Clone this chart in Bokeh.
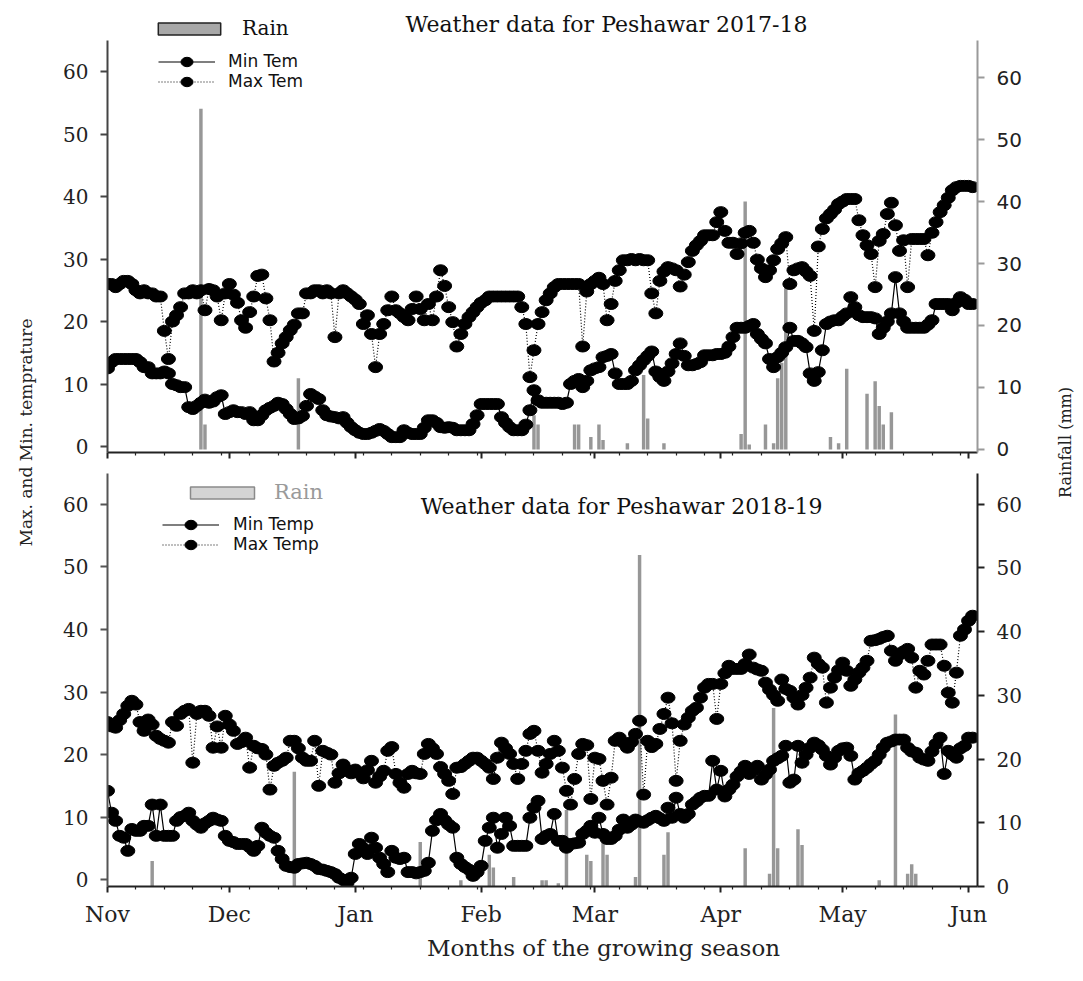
import numpy as np
from bokeh.plotting import figure
from bokeh.models import (Range1d, LinearAxis, FixedTicker, Legend, LegendItem,
                          Label, ColumnDataSource)
from bokeh.layouts import row, column
from bokeh.embed import file_html
from bokeh.resources import INLINE

# ---------------- data ----------------
month_labels = ["Nov", "Dec", "Jan", "Feb", "Mar", "Apr", "May", "Jun"]
month_start_day = [0, 30, 61, 92, 120, 151, 181, 212]
temp_ticks = [0, 10, 20, 30, 40, 50, 60]
rain_ticks = [0, 10, 20, 30, 40, 50, 60]

# 2017-18, daily from 1 Nov
tmax_1718 = [
    26, 26, 25.5, 26, 26.5, 26.5, 26, 25, 24.5, 25,
    24.5, 24.5, 24, 24, 18.5, 14, 20, 21, 22.3, 24.5,
    24.5, 25, 24.5, 25, 21.8, 25.2, 25, 24, 20.2, 24.5,
    26, 24.3, 23, 20.2, 19, 21.5, 24, 27.3, 27.5, 23.7,
    20.2, 13.6, 15, 16.5, 17.5, 18.6, 19.5, 21.3, 21.3, 24.5,
    24.5, 25, 25, 24.5, 25, 24.5, 17.5, 24.5, 25, 24.5,
    24, 23.5, 22.8, 19.6, 21, 18, 12.7, 18, 19.6, 21.8,
    24, 21.8, 21.3, 20.7, 20.2, 22, 24, 22, 20.2, 22.8,
    20.2, 24, 28.2, 25.7, 22.3, 19.9, 16, 18, 19.6, 20.7,
    21.5, 22.3, 23, 23.4, 24, 24, 24, 24, 24, 24,
    24, 24, 22.3, 19.6, 11.1, 15.4, 19.6, 21.5, 23.4, 24.5,
    25.5, 26, 26, 26, 26, 26, 26, 16, 24.8, 26,
    26.5, 27, 26, 20.2, 22.8, 26.5, 28.2, 29.8, 29.8, 30,
    29.8, 30, 29.8, 29.8, 24.5, 21.3, 26.5, 28, 28.7, 28.5,
    28.2, 25.6, 27.5, 29.5, 31.3, 32.2, 32.9, 33.8, 33.8, 33.8,
    35.9, 37.5, 34.5, 32.6, 32.6, 30.8, 32.5, 34.2, 34.5, 32.6,
    29.9, 28.5, 27.1, 28.2, 29.8, 31.6, 32.5, 33.5, 26, 28.2,
    28.5, 28.7, 28, 27.3, 18.5, 32, 34.8, 36.5, 37.2, 37.9,
    38.8, 39.2, 39.6, 39.6, 39.6, 36.2, 33.8, 32.2, 30.8, 25.5,
    32.9, 34, 37.2, 39, 35.4, 31.3, 33, 25.5, 33.2, 33.2,
    33.2, 33.2, 30.6, 34.2, 35.9, 37.5, 38.6, 39.8, 41, 41.5,
    41.7, 41.7, 41.7, 41.5,
]
tmin_1718 = [
    12.5, 13.5, 14, 14, 14, 14, 14, 14, 13.5, 12.7,
    12.7, 11.7, 11.7, 11.7, 12, 11.7, 10, 9.8, 9.5, 9.5,
    6.3, 6, 6.5, 7, 7.5, 7, 7.2, 7.9, 8.2, 5.2,
    5.5, 5.8, 5.5, 5.5, 5.2, 5.5, 4.2, 4.2, 5, 5.8,
    6.2, 6.5, 7, 6.8, 6, 5.2, 4.4, 4.5, 4.9, 6.5,
    8.4, 8, 7.6, 5.8, 5, 4.8, 4.7, 4.5, 4.7, 3.8,
    3.1, 2.6, 2.2, 2, 2, 2.2, 2.5, 2.8, 2.5, 2,
    1.5, 1.5, 1.5, 2.6, 2.2, 2, 2, 2, 3, 4.2,
    4.2, 3.8, 3.1, 3, 3.1, 3, 2.6, 2.6, 2.6, 2.6,
    3.6, 5, 6.8, 6.8, 6.8, 6.8, 6.8, 4.7, 3.8, 3.1,
    2.6, 2.6, 2.6, 3.5, 5.8, 9, 7.4, 7, 7, 7,
    7, 7, 6.8, 7, 10, 10.5, 10.8, 9.5, 10.5, 12.2,
    12.5, 12.7, 14.3, 14.5, 14.8, 11.7, 10, 10, 10, 10.5,
    12.2, 13, 13.8, 14.5, 15.2, 12, 11.1, 10.5, 12, 13.3,
    14.8, 16.5, 14.5, 13, 13, 13.2, 13.5, 14.6, 14.6, 14.6,
    14.8, 14.8, 15, 16, 17.5, 19, 19, 19, 19.3, 19.6,
    18, 17.2, 16.5, 14, 12.7, 14.3, 15, 15.9, 19, 16.9,
    16.9, 16.5, 15.9, 11.7, 10.5, 11.9, 15.4, 19.6, 20, 20.2,
    20.2, 20.8, 21.3, 23.9, 22.3, 21, 20.7, 20.7, 20.7, 20.5,
    18, 19, 20, 21.3, 27.1, 21.3, 20, 19, 19, 19,
    19, 19, 19.5, 20.2, 22.8, 22.8, 22.8, 22.8, 21.8, 23,
    23.9, 23.5, 22.8, 22.8,
]
rain_day_1718 = [23, 24, 47, 105, 106, 115, 116, 119, 121, 122, 128, 132, 133, 137,
                 156, 157, 158, 162, 164, 165, 166, 167, 178, 180, 182, 187, 189,
                 190, 191, 193]
rain_mm_1718 = [55, 4, 11.5, 5.5, 4, 4, 4, 2, 4, 1.5, 1, 12, 5, 1,
                2.5, 40, 0.8, 4, 1, 11.5, 14, 27, 2, 1, 13, 9, 11,
                7, 4, 6]

# 2018-19, daily from 1 Nov
tmax_1819 = [
    25.2, 24.5, 24.3, 25.5, 26.5, 27.8, 28.6, 28, 25.2, 23.8,
    25.6, 24.8, 23, 22.5, 22.2, 21.9, 25.2, 24.6, 26.5, 27,
    27.3, 18.7, 26.5, 27, 27, 26.2, 21.1, 24.5, 21.1, 26.2,
    24.8, 23.8, 21.7, 22, 22.7, 17.9, 21.4, 21, 20.9, 20,
    14.4, 18.2, 18.7, 19, 19.5, 22.2, 22.2, 21, 19.5, 19,
    19, 22.2, 15, 20.6, 20.3, 20, 15.5, 17, 18.4, 17.5,
    17, 17.6, 17, 16.2, 17.5, 19, 15.5, 16.5, 17.4, 20.6,
    21.2, 16.9, 15.5, 14.7, 16.9, 17.4, 17, 16.9, 20.1, 21.7,
    21, 20.1, 18, 16.9, 15.8, 13.7, 17.9, 18, 18.5, 19,
    19.5, 19.5, 19, 18.5, 17.9, 16.1, 19.5, 21.9, 21, 20.1,
    18.5, 16.1, 18.5, 20.6, 23.3, 23.8, 20.6, 17.1, 18.5, 20.1,
    22.2, 20.6, 17.9, 14.2, 12, 16.1, 20.1, 21.7, 21.5, 12.9,
    19.5, 19.3, 15.8, 12, 16.3, 22.2, 22.7, 21.9, 21.1, 22,
    23.3, 25.4, 13.6, 22.2, 21.2, 21.7, 24.1, 26.5, 29.1, 25,
    15.8, 22.2, 24.8, 25.9, 27, 27.5, 29.1, 30.7, 31.3, 31.3,
    25.7, 31.3, 33, 34.2, 33.7, 33.7, 33.7, 34.5, 36, 33.9,
    33.6, 33.4, 31.5, 30.4, 29.5, 28.6, 32, 30.5, 30.2, 29.1,
    28, 29.5, 30.7, 32.3, 35.5, 34.5, 33.9, 28.3, 30.7, 32.3,
    33.5, 34.7, 33.4, 31, 32, 33.1, 33.9, 35, 38.2, 38.3,
    38.5, 38.8, 39, 36.6, 35, 36, 36.5, 36.9, 35.5, 30.7,
    33.4, 32.8, 35, 37.6, 37.6, 37.6, 34.2, 29.9, 28.3, 33.1,
    39, 40, 41.4, 42.2,
]
tmin_1819 = [
    14.2, 10.7, 9.4, 7, 6.7, 4.6, 8.1, 7.8, 7.8, 8.6,
    8.6, 12, 7, 12, 7, 7, 7, 9.4, 10, 10.2,
    10.7, 9.4, 8.8, 8.3, 9, 9.4, 9.9, 9.6, 9.4, 7,
    6.2, 6, 5.7, 5.7, 5.7, 5.2, 4.6, 5.4, 8.3, 7.5,
    7, 6.7, 4.6, 3.3, 2.2, 2, 1.9, 2.5, 2.6, 2.7,
    2.5, 2.2, 1.7, 1.6, 1.4, 1.2, 0.9, 0.3, 0, -0.5,
    0.3, 4.1, 5.7, 5, 4.1, 6.7, 5.1, 3.5, 2.5, 1.2,
    4.6, 3.5, 3.3, 3.5, 1.2, 1.2, 1, 1.2, 1.4, 2.7,
    7.8, 9.5, 10.5, 9.5, 8.8, 8.3, 3.5, 2.5, 2, 1.6,
    0.6, 1.2, 2.2, 6.2, 8.3, 9.9, 5.1, 7.3, 9.9, 8.6,
    5.4, 5.4, 5.4, 5.4, 9.9, 11.5, 12.6, 6.5, 7, 7.3,
    10.5, 6.2, 6.2, 5.1, 5.7, 5.8, 5.9, 7.3, 7.8, 8.6,
    7.5, 9.9, 7.3, 6.5, 6.5, 7, 8, 9.6, 8.3, 8.8,
    9.6, 9.3, 9.1, 9.5, 9.9, 10.2, 9.8, 9.4, 11.5, 9.9,
    13.1, 10.5, 9.9, 10.5, 12, 12.5, 13.1, 13.4, 13.4, 19,
    14.4, 17.4, 13.3, 14.4, 15.2, 16.5, 17.3, 18.2, 16.9, 17.5,
    18.2, 16, 16.8, 17.6, 19, 19.4, 19.8, 21.4, 15.5, 16,
    21.4, 18.7, 20, 21.1, 21.9, 21.5, 20.8, 19.8, 18.4, 19.5,
    20.6, 21, 21.1, 19.8, 16, 17, 17.4, 17.9, 18.5, 19,
    20, 21.1, 21.9, 22.1, 22.4, 22.4, 22.4, 21.1, 20.5, 20.3,
    19.5, 19.2, 19, 20.5, 21.7, 22.7, 16.9, 20.6, 20, 19.5,
    21, 21.4, 22.7, 22.7,
]
rain_day_1819 = [11, 46, 77, 87, 94, 95, 100, 107, 108, 111, 113, 118, 119, 122, 123,
                 130, 131, 137, 138, 157, 163, 164, 165, 170, 171, 190, 194, 197,
                 198, 199]
rain_mm_1819 = [4, 18, 7, 1, 5, 3, 1.5, 1, 1, 0.5, 12, 5, 4, 7, 5,
                1.5, 52, 5, 8.5, 6, 2, 28, 6, 9, 6.5, 1, 27, 2,
                3.5, 2]

# ---------------- styling ----------------
SERIF = "DejaVu Serif"
SANS = "DejaVu Sans"
X_END = 214.2
FRAME_W = 870
B_LEFT, B_RIGHT = 69, 68
FIG_W = B_LEFT + FRAME_W + B_RIGHT
LEFT_W, RIGHT_W = 38, 30
TOP_H = 40
minor_x = [d for d in range(7, 214, 7)]


def style_axis(ax, color, width, font, size, standoff=12):
    ax.axis_line_color = color
    ax.axis_line_width = width
    ax.major_tick_line_color = color
    ax.major_tick_line_width = width
    ax.minor_tick_line_color = color
    ax.major_tick_out = 7
    ax.major_tick_in = 0
    ax.minor_tick_out = 0
    ax.minor_tick_in = 0
    ax.major_label_text_font = font
    ax.major_label_text_font_size = size
    ax.major_label_text_color = "#222222"
    ax.major_label_standoff = standoff


def one_item_legend(label, renderers, loc, gw, font, size, color, standoff):
    return Legend(items=[LegendItem(label=label, renderers=renderers)],
                  location=loc, glyph_width=gw, glyph_height=15,
                  label_height=15, label_standoff=standoff, padding=0,
                  margin=0, spacing=0, border_line_color=None,
                  background_fill_alpha=0, label_text_font=font,
                  label_text_font_size=size, label_text_color=color)


def panel(tmax, tmin, rday, rmm, yr, rr, fh, mt, mb, show_labels,
          left_col, right_col, right_font, names, temp_locs, temp_gw,
          temp_standoff):
    p = figure(frame_width=FRAME_W, frame_height=fh, title=None,
               x_range=Range1d(0, X_END), y_range=Range1d(*yr),
               toolbar_location=None, output_backend="svg",
               min_border_left=B_LEFT, min_border_right=B_RIGHT,
               min_border_top=mt, min_border_bottom=mb,
               outline_line_color=None, background_fill_color="white",
               border_fill_color="white")
    p.xgrid.visible = False
    p.ygrid.visible = False
    p.extra_y_ranges = {"rain": Range1d(*rr)}

    src = ColumnDataSource(dict(day=np.arange(len(tmax)), tmax=tmax, tmin=tmin))
    rsrc = ColumnDataSource(dict(day=rday, mm=rmm))

    p.vbar(x="day", top="mm", bottom=0, width=0.85, source=rsrc,
           y_range_name="rain", fill_color="#979797", line_color=None)

    lmin = p.line("day", "tmin", source=src, line_color="black", line_width=1.2)
    lmax = p.line("day", "tmax", source=src, line_color="black", line_width=1.2,
                  line_dash="1 2")
    emin = p.ellipse("day", "tmin", source=src, width=14, height=11,
                     width_units="screen", height_units="screen",
                     fill_color="black", line_color="black")
    emax = p.ellipse("day", "tmax", source=src, width=14, height=11,
                     width_units="screen", height_units="screen",
                     fill_color="black", line_color="black")

    p.yaxis.ticker = FixedTicker(ticks=temp_ticks)
    style_axis(p.yaxis[0], left_col, 2, SERIF, "20px")

    rax = LinearAxis(y_range_name="rain", ticker=FixedTicker(ticks=rain_ticks))
    style_axis(rax, right_col, 2, right_font, "20px")
    p.add_layout(rax, "right")

    xa = p.xaxis[0]
    xa.ticker = FixedTicker(ticks=month_start_day, minor_ticks=minor_x)
    style_axis(xa, "#222222", 2, SERIF, "22px", standoff=9)
    xa.major_tick_out = 6
    xa.minor_tick_out = 3
    xa.minor_tick_line_width = 1.2
    if show_labels:
        xa.major_label_overrides = {d: m for d, m in zip(month_start_day, month_labels)}
    else:
        xa.major_label_overrides = {d: "" for d in month_start_day}
        xa.major_label_standoff = 0

    p.add_layout(one_item_legend(names[0], [lmin, emin], temp_locs[0], temp_gw,
                                 SANS, "17px", "#111111", temp_standoff))
    p.add_layout(one_item_legend(names[1], [lmax, emax], temp_locs[1], temp_gw,
                                 SANS, "17px", "#111111", temp_standoff))
    return p, rsrc


p1, rsrc1 = panel(tmax_1718, tmin_1718, rain_day_1718, rain_mm_1718,
                  (-0.96, 64.96), (-0.5, 66.0), 412, 0, 12, False,
                  "#444444", "#9a9a9a", SANS, ("Min Tem", "Max Tem"),
                  ((51, 381), (51, 361)), 57, 13)

p2, rsrc2 = panel(tmax_1819, tmin_1819, rain_day_1819, rain_mm_1819,
                  (-1.1, 64.95), (0, 64.8), 413, 9, 40, True,
                  "#555555", "#222222", SERIF, ("Min Temp", "Max Temp"),
                  ((55, 352), (55, 332)), 57, 14)

# bottom panel: rain legend (proxy renderer hidden, same rain data)
sw2 = p2.vbar(x="day", top="mm", bottom=0, width=0.85, source=rsrc2,
              y_range_name="rain", fill_color="#d4d4d4", line_color="#8a8a8a",
              line_width=1.5, visible=False)
p2.add_layout(one_item_legend("Rain", [sw2], (75, 382), 80, SERIF, "21px",
                              "#9a9a9a", 12))
p2.add_layout(Label(x=126.6, y=59.7, text="Weather data for Peshawar 2018-19",
                    text_align="center", text_baseline="middle",
                    text_font=SERIF, text_font_size="22px", text_color="#111111"))

H_FIGS = TOP_H + (412 + 12) + (9 + 413 + 40)
FULL_W = LEFT_W + FIG_W + RIGHT_W


def strip(w, h, xr=None):
    s = figure(width=w, height=h, x_range=Range1d(0, xr or w), y_range=Range1d(0, h),
               toolbar_location=None, output_backend="svg", min_border=0,
               title=None, outline_line_color=None, x_axis_type=None,
               y_axis_type=None, background_fill_color="white",
               border_fill_color="white")
    s.xgrid.visible = False
    s.ygrid.visible = False
    return s


# strip above the first panel (its frame is aligned with the panel frames)
top = strip(FIG_W, TOP_H, FRAME_W)
sw1 = top.vbar(x="day", top="mm", bottom=0, width=0.85, source=rsrc1,
               fill_color="#a8a8a8", line_color="#222222", line_width=1.5,
               visible=False)
top.add_layout(one_item_legend("Rain", [sw1], (43, 0), 78, SERIF, "20px",
                               "#111111", 14))
top.add_layout(Label(x=606 - 107, y=TOP_H - 23.5,
                     text="Weather data for Peshawar 2017-18",
                     text_align="center", text_baseline="middle",
                     text_font=SERIF, text_font_size="22px", text_color="#111111"))

left = strip(LEFT_W, H_FIGS)
left.add_layout(Label(x=25, y=H_FIGS - 432, text="Max. and Min. temprature",
                      angle=np.pi / 2, text_align="center", text_baseline="middle",
                      text_font=SERIF, text_font_size="17px", text_color="#222222"))
right = strip(RIGHT_W, H_FIGS)
right.add_layout(Label(x=20, y=H_FIGS - 442, text="Rainfall (mm)",
                       angle=np.pi / 2, text_align="center", text_baseline="middle",
                       text_font=SERIF, text_font_size="16px", text_color="#222222"))
BOT_H = 50
bottom = strip(FULL_W, BOT_H)
bottom.add_layout(Label(x=603, y=BOT_H - (944 - H_FIGS), text="Months of the growing season",
                        text_align="center", text_baseline="middle",
                        text_font=SERIF, text_font_size="23px", text_color="#222222"))

layout = column(row(left, column(top, p1, p2), right), bottom)

open("out.html", "w").write(file_html(layout, INLINE))
